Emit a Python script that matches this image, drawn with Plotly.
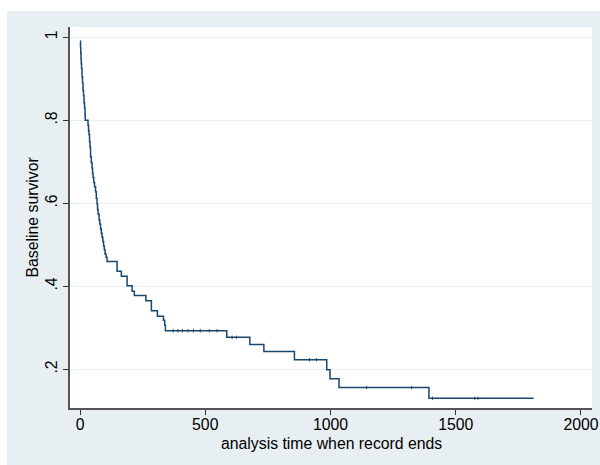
import plotly.graph_objects as go

# Step points of the baseline survivor function (time, survival after the step)
times = [1, 2, 3, 4, 5, 6, 8, 10, 12, 14, 16, 18, 20, 21, 32, 34, 36, 38, 40, 42,
         45, 48, 50, 52, 55, 58, 62, 65, 68, 70, 72, 76, 79, 82, 85, 88, 91, 94, 97,
         100, 104, 108, 148, 165, 188, 208, 217, 263, 285, 309, 333, 338, 341, 586,
         678, 734, 856, 985, 998, 1034, 1393, 1811]
surv = [0.991, 0.975, 0.961, 0.948, 0.937, 0.925, 0.905, 0.890, 0.872, 0.860, 0.842,
        0.830, 0.812, 0.800, 0.788, 0.775, 0.765, 0.748, 0.735, 0.712, 0.698, 0.685,
        0.672, 0.662, 0.650, 0.640, 0.628, 0.612, 0.598, 0.585, 0.574, 0.560, 0.550,
        0.538, 0.528, 0.518, 0.508, 0.497, 0.488, 0.478, 0.470, 0.460, 0.436, 0.424,
        0.401, 0.388, 0.378, 0.365, 0.341, 0.328, 0.318, 0.306, 0.293, 0.277, 0.260,
        0.243, 0.223, 0.199, 0.177, 0.156, 0.130, 0.130]

# Small tick marks along the plateaus (censored times)
cens_t = [372, 391, 409, 431, 453, 480, 516, 547, 607, 624, 916, 944, 1144, 1324,
          1407, 1576, 1589]
cens_s = [0.293, 0.293, 0.293, 0.293, 0.293, 0.293, 0.293, 0.293, 0.277, 0.277,
          0.223, 0.223, 0.156, 0.156, 0.130, 0.130, 0.130]

x_ticks = [0, 500, 1000, 1500, 2000]
y_ticks = [0.2, 0.4, 0.6, 0.8, 1.0]
y_tick_labels = [".2", ".4", ".6", ".8", "1"]

x_title = "analysis time when record ends"
y_title = "Baseline survivor"

NAVY = "#1A476F"
BG = "#E8EFF2"
FONT = "Liberation Sans"
FS = 15.8

fig = go.Figure()
fig.add_trace(go.Scatter(x=times, y=surv, mode="lines", line=dict(color=NAVY, width=1.5, shape="hv"),
                         showlegend=False, hoverinfo="skip"))
fig.add_trace(go.Scatter(x=cens_t, y=cens_s, mode="markers",
                         marker=dict(symbol="line-ns", size=2.5, line=dict(color="#10304d", width=0.8)),
                         showlegend=False, hoverinfo="skip"))

# thin white strips left of and above the light bluish-gray graph region
fig.add_shape(type="rect", xref="paper", yref="paper", x0=-0.2, x1=-0.1207, y0=-0.3, y1=1.2,
              fillcolor="white", line=dict(width=0), layer="above")
fig.add_shape(type="rect", xref="paper", yref="paper", x0=-0.2, x1=1.2, y0=1.042, y1=1.2,
              fillcolor="white", line=dict(width=0), layer="above")

# axis titles
fig.add_annotation(text=x_title, xref="paper", yref="paper", x=0.5, y=-0.0919,
                   xanchor="center", yanchor="middle", showarrow=False,
                   font=dict(family=FONT, size=FS, color="#000000"))
fig.add_annotation(text=y_title, xref="paper", yref="paper", x=-0.0709, y=0.5,
                   xanchor="center", yanchor="middle", textangle=-90, showarrow=False,
                   font=dict(family=FONT, size=FS, color="#000000"))

fig.update_layout(
    width=600, height=465,
    margin=dict(l=70, r=8, t=27, b=57),
    paper_bgcolor=BG, plot_bgcolor="white",
    font=dict(family=FONT, size=FS, color="#000000"),
    xaxis=dict(range=[-40, 2044], tickvals=x_ticks, ticks="outside", ticklen=5, tickwidth=1,
               tickcolor="#333333", showgrid=False, zeroline=False, showline=True,
               linecolor="#555555", linewidth=1.5, automargin=False, ticklabelstandoff=-4),
    yaxis=dict(range=[0.1067, 1.0248], tickvals=y_ticks, ticktext=y_tick_labels, tickangle=-90,
               ticks="outside", ticklen=5, tickwidth=1, tickcolor="#333333",
               showgrid=True, gridcolor=BG, gridwidth=1, zeroline=False, showline=True,
               linecolor="#555555", linewidth=1.5, automargin=False),
)

fig.write_html("out.html", config={"displayModeBar": False},
               post_script="document.body.style.margin='0';document.body.style.overflow='hidden';")
